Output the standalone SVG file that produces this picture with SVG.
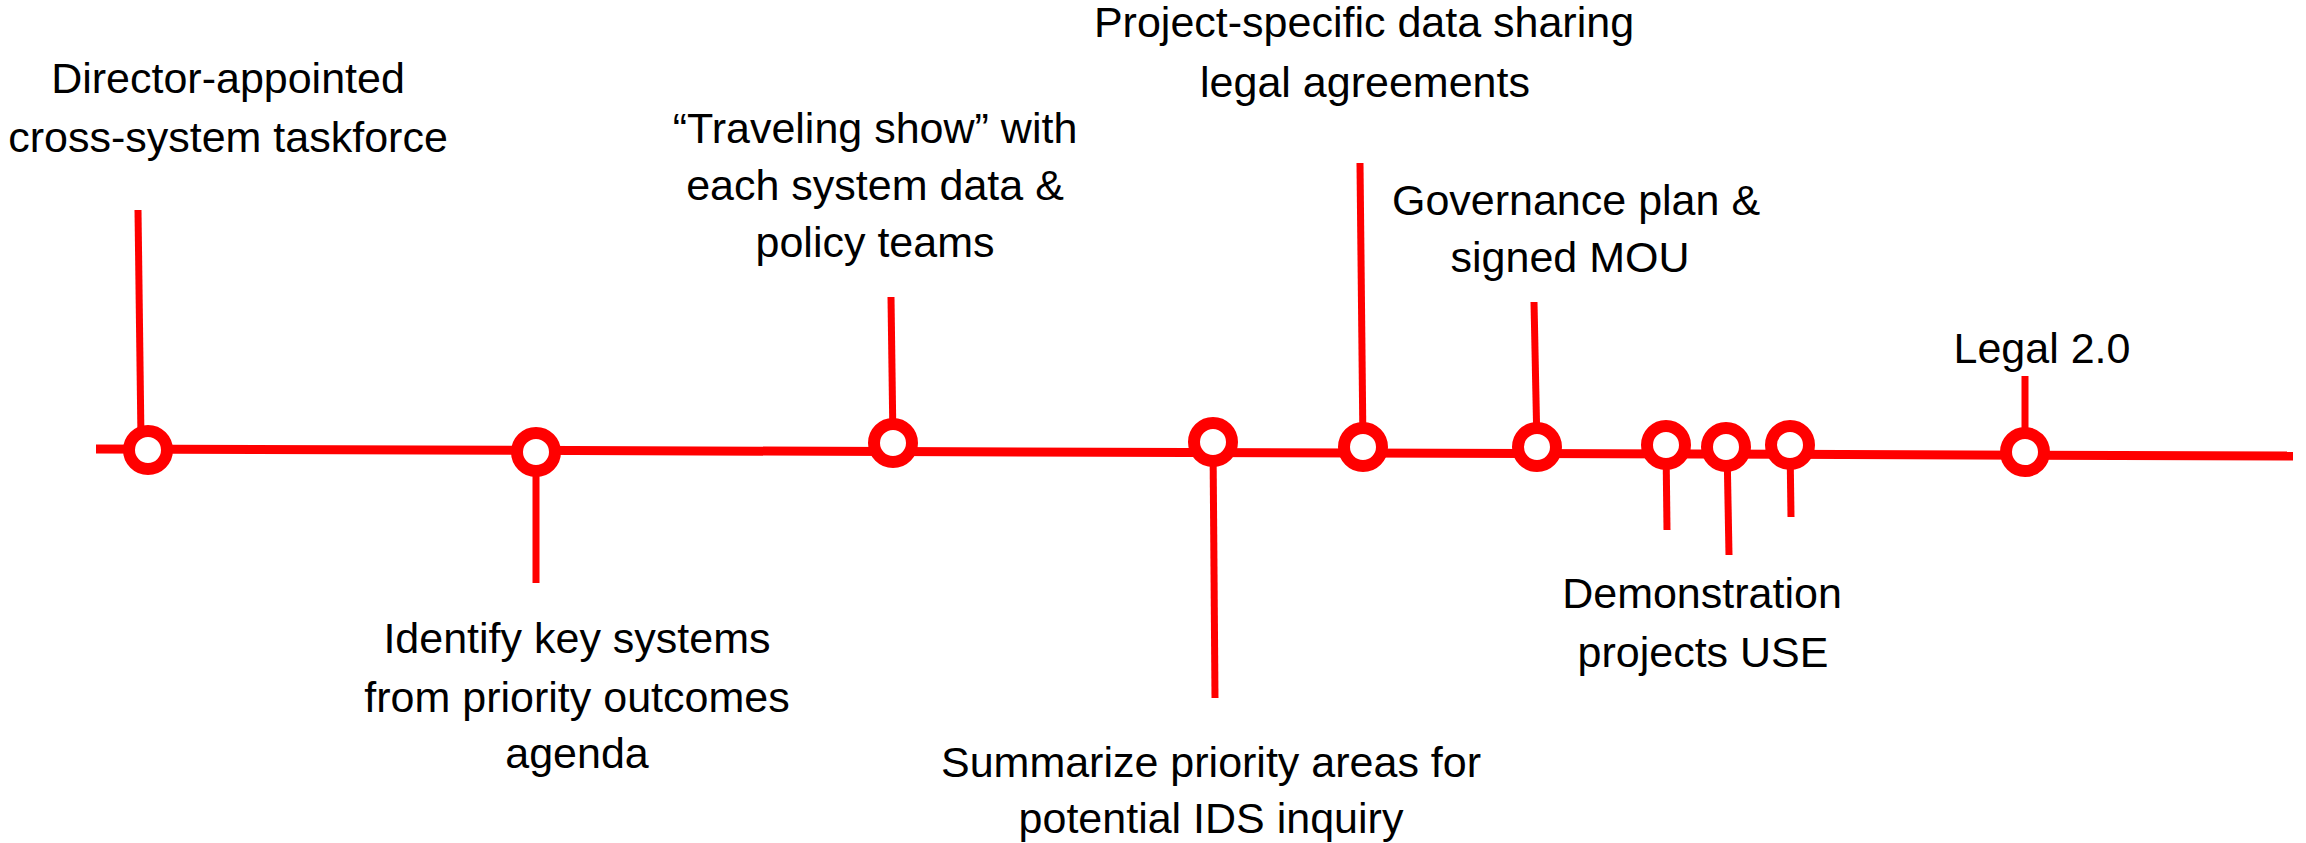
<svg xmlns="http://www.w3.org/2000/svg" width="2306" height="843" viewBox="0 0 2306 843">
<style>
.lbl{font-family:"Liberation Sans",Arial,sans-serif;font-size:43px;fill:#000;text-anchor:middle}
.stem{stroke:#FF0000;stroke-width:7;fill:none}
.dot{fill:#FFFFFF;stroke:#FF0000;stroke-width:12}
.axis{stroke:#FF0000;stroke-width:9;fill:none}
</style>
<rect width="2306" height="843" fill="#FFFFFF"/>
<g id="connectors">
<line class="axis" x1="96" y1="449" x2="2293" y2="456"/>
</g>
<g id="n1">
<line class="stem" x1="138" y1="210" x2="141" y2="440"/>
<circle class="dot" cx="148" cy="450" r="19"/>
<text class="lbl" x="228" y="93">Director-appointed</text>
<text class="lbl" x="228" y="152">cross-system taskforce</text>
</g>
<g id="n2">
<line class="stem" x1="536" y1="452" x2="536" y2="583"/>
<circle class="dot" cx="536" cy="452" r="19"/>
<text class="lbl" x="577" y="653">Identify key systems</text>
<text class="lbl" x="577" y="712">from priority outcomes</text>
<text class="lbl" x="577" y="768">agenda</text>
</g>
<g id="n3">
<line class="stem" x1="891" y1="297" x2="893" y2="443"/>
<circle class="dot" cx="893" cy="443" r="19"/>
<text class="lbl" x="875" y="143">“Traveling show” with</text>
<text class="lbl" x="875" y="200">each system data &amp;</text>
<text class="lbl" x="875" y="257">policy teams</text>
</g>
<g id="n4">
<line class="stem" x1="1213" y1="442" x2="1215" y2="698"/>
<circle class="dot" cx="1213" cy="442" r="19"/>
<text class="lbl" x="1211" y="777">Summarize priority areas for</text>
<text class="lbl" x="1211" y="833">potential IDS inquiry</text>
</g>
<g id="n5">
<line class="stem" x1="1360" y1="163" x2="1363" y2="447"/>
<circle class="dot" cx="1363" cy="447" r="19"/>
<text class="lbl" x="1364" y="37">Project-specific data sharing</text>
<text class="lbl" x="1365" y="97">legal agreements</text>
</g>
<g id="n6">
<line class="stem" x1="1534" y1="302" x2="1537" y2="447"/>
<circle class="dot" cx="1537" cy="447" r="19"/>
<text class="lbl" x="1576" y="215">Governance plan &amp;</text>
<text class="lbl" x="1570" y="272">signed MOU</text>
</g>
<g id="n7">
<line class="stem" x1="1666" y1="445" x2="1667" y2="530"/>
<circle class="dot" cx="1666" cy="445" r="19"/>
</g>
<g id="n8">
<line class="stem" x1="1727" y1="447" x2="1729" y2="555"/>
<circle class="dot" cx="1726" cy="447" r="19"/>
<text class="lbl" x="1702" y="608">Demonstration</text>
<text class="lbl" x="1703" y="667">projects USE</text>
</g>
<g id="n9">
<line class="stem" x1="1790" y1="445" x2="1791" y2="517"/>
<circle class="dot" cx="1790" cy="445" r="19"/>
</g>
<g id="n10">
<line class="stem" x1="2025" y1="376" x2="2025" y2="452"/>
<circle class="dot" cx="2025" cy="452" r="19"/>
<text class="lbl" x="2042" y="363">Legal 2.0</text>
</g>
</svg>
